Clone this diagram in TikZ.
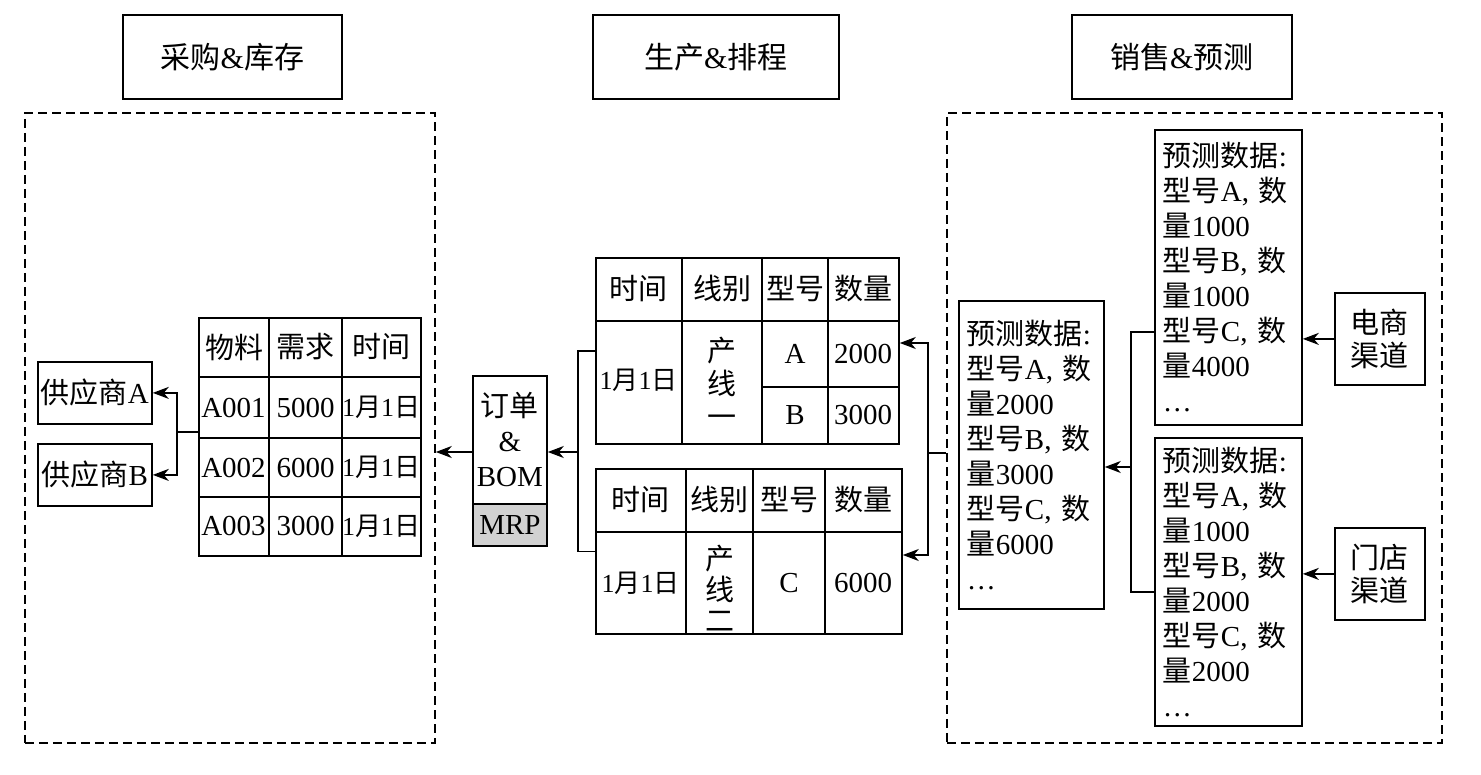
\documentclass[tikz,border=0pt]{standalone}
\usepackage{fontspec}
\setmainfont{Liberation Serif}
\newfontfamily\cjk{Noto Sans CJK SC}
\newcommand\zh[1]{{\cjk #1}}
\usetikzlibrary{arrows.meta}
\tikzset{
  box/.style={draw, line width=1.8pt, inner sep=0pt, anchor=north west, align=center,
    font=\fontsize{29}{35}\selectfont},
  dbox/.style={draw, line width=1.8pt, dash pattern=on 9pt off 5pt, inner sep=0pt, anchor=north west},
  cell/.style={inner sep=0pt, font=\fontsize{29}{33}\selectfont, align=center},
  dcell/.style={cell, font=\fontsize{26}{30}\selectfont},
  tline/.style={line width=1.8pt},
  con/.style={line width=1.8pt},
  arr/.style={con, -{Stealth[length=16pt,width=12pt,inset=5pt]}},
  fbox/.style={box, align=left},
}
\begin{document}
\begin{tikzpicture}[x=1pt,y=-1pt]
\useasboundingbox (0,0) rectangle (1481,775);
% titles
\node[box, minimum width=219, minimum height=84, font=\fontsize{30}{35}\selectfont] (t1) at (122,14) {\zh{采购}\&\zh{库存}};
\node[box, minimum width=246, minimum height=84, font=\fontsize{30}{35}\selectfont] (t2) at (592,14) {\zh{生产}\&\zh{排程}};
\node[box, minimum width=220, minimum height=84, font=\fontsize{30}{35}\selectfont] (t3) at (1071,14) {\zh{销售}\&\zh{预测}};
% dashed areas
\node[dbox, minimum width=410, minimum height=630] (ld) at (24,112) {};
\node[dbox, minimum width=495, minimum height=630] (rd) at (946,112) {};
% left table
\node[box, minimum width=222, minimum height=238] (lt) at (198,317) {};
\draw[tline] (269,317) -- (269,555) (342,317) -- (342,555)
  (198,377) -- (420,377) (198,438) -- (420,438) (198,497) -- (420,497);
\node[cell] (l11) at (234.5,347) {\zh{物料}};
\node[cell] (l12) at (305.5,347) {\zh{需求}};
\node[cell] (l13) at (381,347) {\zh{时间}};
\node[cell] (l21) at (233.5,407.5) {A001};
\node[cell] (l22) at (305.5,407.5) {5000};
\node[dcell] (l23) at (381,407.5) {1\zh{月}1\zh{日}};
\node[cell] (l31) at (233.5,467.5) {A002};
\node[cell] (l32) at (305.5,467.5) {6000};
\node[dcell] (l33) at (381,467.5) {1\zh{月}1\zh{日}};
\node[cell] (l41) at (233.5,526) {A003};
\node[cell] (l42) at (305.5,526) {3000};
\node[dcell] (l43) at (381,526) {1\zh{月}1\zh{日}};
% suppliers
\node[box, minimum width=114, minimum height=62] (sa) at (37,361) {\zh{供应商}A};
\node[box, minimum width=114, minimum height=62] (sb) at (37,443) {\zh{供应商}B};
\coordinate (jl) at (177,432);
\draw[con] (jl -| lt.west) -- (jl);
\draw[arr] (jl) |- (sa.east);
\draw[arr] (jl) |- (sb.east);
% order box
\node[box, minimum width=74, minimum height=128] (ord) at (472,375) {\zh{订单}\\\&\\BOM};
\node[box, minimum width=74, minimum height=42, fill=black!18] (mrp) at (472,503) {MRP};
% top production table
\node[box, minimum width=303, minimum height=186] (tt) at (595,257) {};
\draw[tline] (595,321) -- (898,321) (682,257) -- (682,443) (762,257) -- (762,443)
  (828,257) -- (828,443) (762,387) -- (898,387);
\node[cell] (a11) at (638.5,289) {\zh{时间}};
\node[cell] (a12) at (722,289) {\zh{线别}};
\node[cell] (a13) at (795,289) {\zh{型号}};
\node[cell] (a14) at (863,289) {\zh{数量}};
\node[dcell] (a21) at (638.5,380) {1\zh{月}1\zh{日}};
\node[cell] (a22) at (722,382) {\zh{产}\\\zh{线}\\\zh{一}};
\node[cell] (a23) at (795,354) {A};
\node[cell] (a24) at (863,354) {2000};
\node[cell] (a33) at (795,415) {B};
\node[cell] (a34) at (863,415) {3000};
% bottom production table
\node[box, minimum width=306, minimum height=165] (tb) at (595,468) {};
\draw[tline] (595,532) -- (901,532) (686,468) -- (686,633) (753,468) -- (753,633)
  (825,468) -- (825,633);
\node[cell] (b11) at (640.5,500) {\zh{时间}};
\node[cell] (b12) at (719.5,500) {\zh{线别}};
\node[cell] (b13) at (789,500) {\zh{型号}};
\node[cell] (b14) at (863,500) {\zh{数量}};
\node[dcell] (b21) at (640.5,583) {1\zh{月}1\zh{日}};
\node[cell, font=\fontsize{29}{31}\selectfont] (b22) at (719.5,588) {\zh{产}\\\zh{线}\\\zh{二}};
\node[cell] (b23) at (789,583) {C};
\node[cell] (b24) at (863,583) {6000};
% centre connectors
\coordinate (jc) at (578,452);
\draw[con] (tt.west) -| (jc);
\draw[con] (tb.west) -| (jc);
\draw[arr] (jc) -- (jc -| ord.east);
\draw[arr] (jc -| ord.west) -- (jc -| ld.east);
\coordinate (jr) at (928,453);
\coordinate (r1) at (928,343);
\coordinate (r2) at (928,555);
\draw[con] (jr -| rd.west) -- (jr);
\draw[arr] (jr) -- (r1) -- (r1 -| tt.east);
\draw[arr] (jr) -- (r2) -- (r2 -| tb.east);
% forecast boxes
\node[fbox, minimum width=145, minimum height=308, text width=129] (fm) at (958,300)
  {\zh{预测数据}:\\\zh{型号}A, \zh{数}\\\zh{量}2000\\\zh{型号}B, \zh{数}\\\zh{量}3000\\\zh{型号}C, \zh{数}\\\zh{量}6000\\…};
\node[fbox, minimum width=147, minimum height=295, text width=131] (fe) at (1154,129)
  {\zh{预测数据}:\\\zh{型号}A, \zh{数}\\\zh{量}1000\\\zh{型号}B, \zh{数}\\\zh{量}1000\\\zh{型号}C, \zh{数}\\\zh{量}4000\\…};
\node[fbox, minimum width=147, minimum height=288, text width=131] (fs) at (1154,437)
  {\zh{预测数据}:\\\zh{型号}A, \zh{数}\\\zh{量}1000\\\zh{型号}B, \zh{数}\\\zh{量}2000\\\zh{型号}C, \zh{数}\\\zh{量}2000\\…};
\node[box, minimum width=90, minimum height=92, font=\fontsize{29}{33}\selectfont] (ce) at (1334,292) {\zh{电商}\\\zh{渠道}};
\node[box, minimum width=90, minimum height=92, font=\fontsize{29}{33}\selectfont] (cs) at (1334,527) {\zh{门店}\\\zh{渠道}};
\draw[arr] (ce.west) -- (ce.west -| fe.east);
\draw[arr] (cs.west) -- (cs.west -| fs.east);
\coordinate (k1) at (1131,332);
\coordinate (k2) at (1131,592);
\coordinate (km) at (1131,467);
\draw[con] (k1 -| fe.west) -- (k1) -- (k2) -- (k2 -| fs.west);
\draw[arr] (km) -- (km -| fm.east);
\end{tikzpicture}
\end{document}
